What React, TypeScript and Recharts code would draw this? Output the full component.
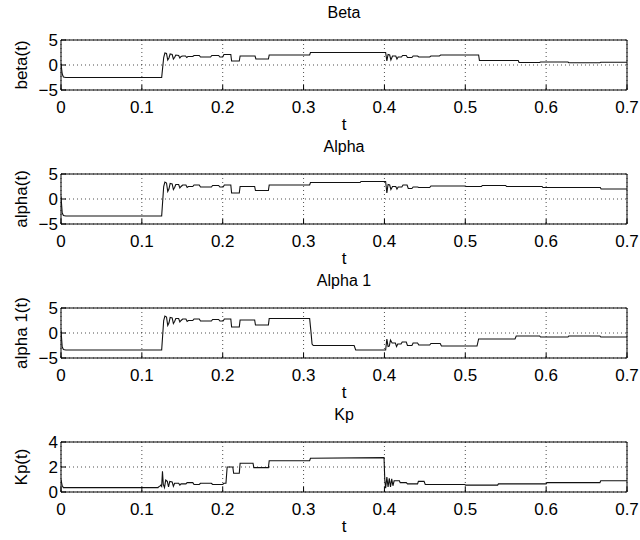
import { CartesianGrid, Line, LineChart, ReferenceArea, XAxis, YAxis } from "recharts";

const FONT = "'Liberation Sans', Arial, Helvetica, sans-serif";

const tTicks = [0, 0.1, 0.2, 0.3, 0.4, 0.5, 0.6, 0.7];
const symTicks = [-5, 0, 5];
const kpTicks = [0, 2, 4];

// [t, value] pairs
const betaPoints: [number, number][] = [
  [0, 0.3], [0.0015, -1.8], [0.003, -2.4], [0.006, -2.5], [0.1245, -2.5],
  [0.127, 1.5], [0.1285, 2.4], [0.1305, 2.3], [0.132, 1.0], [0.1335, 1.4],
  [0.135, 2.2], [0.1375, 2.1], [0.139, 1.2], [0.1405, 1.5], [0.142, 2.0],
  [0.1455, 1.9], [0.147, 1.4], [0.1485, 1.7], [0.1505, 1.8], [0.154, 1.8],
  [0.1555, 1.5], [0.157, 1.7], [0.163, 1.7], [0.1645, 1.9], [0.171, 1.9],
  [0.1725, 1.6], [0.185, 1.6], [0.1865, 1.9], [0.195, 1.9], [0.1965, 1.6],
  [0.2, 1.6], [0.2015, 2.1], [0.21, 2.1], [0.211, 0.8], [0.2205, 0.8],
  [0.2215, 1.8], [0.24, 1.8], [0.241, 1.2], [0.2565, 1.2], [0.2575, 2.0],
  [0.3075, 2.0], [0.3085, 2.5], [0.4015, 2.5], [0.403, 0.8], [0.4045, 2.1],
  [0.4065, 2.0], [0.408, 1.0], [0.41, 1.8], [0.414, 1.8], [0.4155, 1.2],
  [0.417, 1.6], [0.421, 1.6], [0.4225, 1.9], [0.427, 1.9], [0.4285, 1.5],
  [0.434, 1.5], [0.4355, 1.8], [0.441, 1.8], [0.4425, 1.6], [0.456, 1.6],
  [0.4575, 1.8], [0.468, 1.8], [0.4695, 2.0], [0.5165, 2.0], [0.5175, 0.9],
  [0.5655, 0.9], [0.5665, 0.5], [0.592, 0.5], [0.593, 0.6], [0.627, 0.6],
  [0.628, 0.45], [0.6665, 0.45], [0.6675, 0.55], [0.7, 0.55],
];

const alphaPoints: [number, number][] = [
  [0, 0.5], [0.0015, -2.8], [0.003, -3.3], [0.006, -3.4], [0.1245, -3.4],
  [0.127, 2.5], [0.1285, 3.4], [0.1305, 3.2], [0.132, 1.5], [0.1335, 2.0],
  [0.135, 3.1], [0.1375, 3.0], [0.139, 1.9], [0.1405, 2.3], [0.142, 2.9],
  [0.1455, 2.9], [0.147, 2.2], [0.1485, 2.5], [0.1505, 2.8], [0.1545, 2.8],
  [0.156, 2.3], [0.1575, 2.5], [0.163, 2.5], [0.1645, 2.8], [0.171, 2.8],
  [0.1725, 2.4], [0.186, 2.4], [0.1875, 2.7], [0.195, 2.7], [0.1965, 2.4],
  [0.2005, 2.4], [0.202, 2.8], [0.21, 2.8], [0.211, 1.2], [0.2205, 1.2],
  [0.2215, 2.5], [0.2395, 2.5], [0.2405, 1.7], [0.2565, 1.7], [0.2575, 2.8],
  [0.3075, 2.8], [0.3085, 3.3], [0.37, 3.3], [0.371, 3.5], [0.4015, 3.5],
  [0.403, 1.2], [0.4045, 2.9], [0.4065, 2.8], [0.408, 1.9], [0.41, 2.5],
  [0.414, 2.5], [0.4155, 2.0], [0.417, 2.4], [0.4215, 2.4], [0.423, 2.8],
  [0.428, 2.8], [0.4295, 2.1], [0.434, 2.1], [0.4355, 2.4], [0.441, 2.4],
  [0.4425, 2.3], [0.456, 2.3], [0.4575, 2.6], [0.5, 2.6], [0.501, 2.5],
  [0.52, 2.5], [0.521, 2.7], [0.55, 2.7], [0.551, 2.5], [0.595, 2.5],
  [0.596, 2.3], [0.667, 2.3], [0.668, 2.0], [0.7, 2.0],
];

const alpha1Points: [number, number][] = [
  [0, 0.5], [0.0015, -2.8], [0.003, -3.3], [0.006, -3.4], [0.1245, -3.4],
  [0.127, 2.5], [0.1285, 3.4], [0.1305, 3.2], [0.132, 1.5], [0.1335, 2.0],
  [0.135, 3.1], [0.1375, 3.0], [0.139, 1.9], [0.1405, 2.3], [0.142, 2.9],
  [0.1455, 2.9], [0.147, 2.2], [0.1485, 2.5], [0.1505, 2.8], [0.1545, 2.8],
  [0.156, 2.3], [0.1575, 2.5], [0.163, 2.5], [0.1645, 2.8], [0.171, 2.8],
  [0.1725, 2.4], [0.186, 2.4], [0.1875, 2.7], [0.195, 2.7], [0.1965, 2.4],
  [0.2005, 2.4], [0.202, 2.8], [0.21, 2.8], [0.211, 1.2], [0.2205, 1.2],
  [0.2215, 2.6], [0.2395, 2.6], [0.2405, 1.6], [0.2565, 1.6], [0.2575, 2.9],
  [0.3075, 2.9], [0.309, 0.5], [0.3105, -2.2], [0.312, -2.5], [0.3625, -2.5],
  [0.3645, -3.4], [0.4015, -3.4], [0.403, -1.2], [0.4045, -2.7], [0.406, -2.6],
  [0.4075, -1.4], [0.4095, -2.0], [0.4135, -2.0], [0.415, -2.7], [0.4165, -2.2],
  [0.4205, -2.2], [0.422, -1.8], [0.427, -1.8], [0.4285, -2.5], [0.434, -2.5],
  [0.4355, -2.0], [0.441, -2.0], [0.4425, -2.4], [0.456, -2.4], [0.4575, -2.1],
  [0.469, -2.1], [0.4705, -2.6], [0.5145, -2.6], [0.5165, -1.2], [0.5615, -1.2],
  [0.563, -0.6], [0.592, -0.6], [0.593, -0.8], [0.627, -0.8], [0.628, -0.6],
  [0.6665, -0.6], [0.6675, -0.8], [0.7, -0.8],
];

const kpPoints: [number, number][] = [
  [0, 1.0], [0.0015, 0.5], [0.003, 0.35], [0.12, 0.35], [0.1205, 0.4],
  [0.122, 0.45], [0.1235, 0.55], [0.1245, 0.45], [0.1255, 1.65], [0.1265, 0.6],
  [0.128, 0.35], [0.1295, 0.95], [0.1315, 0.85], [0.133, 0.4], [0.1345, 0.85],
  [0.1375, 0.8], [0.139, 0.45], [0.1405, 0.7], [0.1455, 0.7], [0.147, 0.55],
  [0.1485, 0.65], [0.1545, 0.65], [0.156, 0.75], [0.163, 0.75], [0.1645, 0.6],
  [0.171, 0.6], [0.1725, 0.7], [0.186, 0.7], [0.1875, 0.6], [0.2, 0.6],
  [0.2015, 0.7], [0.204, 0.7], [0.2055, 2.0], [0.2125, 2.0], [0.2135, 1.5],
  [0.2205, 1.5], [0.2215, 2.3], [0.2375, 2.3], [0.2385, 1.95], [0.2565, 1.95],
  [0.2575, 2.5], [0.3075, 2.5], [0.3085, 2.7], [0.3995, 2.75], [0.4005, 0.9],
  [0.4015, 0.3], [0.403, 1.2], [0.4045, 0.4], [0.406, 1.1], [0.4075, 0.4],
  [0.409, 1.05], [0.4105, 0.5], [0.412, 0.9], [0.4185, 0.9], [0.4195, 0.75],
  [0.427, 0.75], [0.4285, 0.65], [0.441, 0.65], [0.442, 0.85], [0.449, 0.85],
  [0.4505, 0.6], [0.4995, 0.6], [0.5005, 0.55], [0.54, 0.55], [0.541, 0.65],
  [0.6, 0.65], [0.601, 0.75], [0.6665, 0.75], [0.6675, 0.9], [0.7, 0.9],
];

const panels = [
  { title: "Beta", yLabel: "beta(t)", points: betaPoints, yTicks: symTicks },
  { title: "Alpha", yLabel: "alpha(t)", points: alphaPoints, yTicks: symTicks },
  { title: "Alpha 1", yLabel: "alpha 1(t)", points: alpha1Points, yTicks: symTicks },
  { title: "Kp", yLabel: "Kp(t)", points: kpPoints, yTicks: kpTicks },
];

const fmtY = (v: number) => (v < 0 ? `\u2212${Math.abs(v)}` : `${v}`);

function Panel({ title, yLabel, points, yTicks }: {
  title: string; yLabel: string; points: [number, number][]; yTicks: number[];
}) {
  const data = points.map(([t, v]) => ({ t, v }));
  const lo = yTicks[0];
  const hi = yTicks[yTicks.length - 1];
  const tickStyle = { fill: "#000", fontSize: 17, fontFamily: FONT };
  return (
    <LineChart width={640} height={134} data={data} margin={{ top: 40, right: 13, bottom: 0, left: 0 }}>
      <CartesianGrid stroke="#000" strokeDasharray="1 3" strokeWidth={0.7} />
      <XAxis dataKey="t" type="number" domain={[0, 0.7]} ticks={tTicks} interval={0} allowDataOverflow
        height={44} tickSize={-5} tickMargin={16} axisLine={false} stroke="#000" tick={tickStyle} />
      <XAxis xAxisId="top" orientation="top" type="number" domain={[0, 0.7]} ticks={tTicks} interval={0}
        allowDataOverflow height={0} tickSize={-5} axisLine={false} stroke="#000" tick={false} />
      <YAxis type="number" domain={[lo, hi]} ticks={yTicks} interval={0} allowDataOverflow width={61}
        tickSize={-5} tickMargin={8} axisLine={false} stroke="#000" tick={tickStyle} tickFormatter={fmtY} />
      <YAxis yAxisId="right" orientation="right" type="number" domain={[lo, hi]} ticks={yTicks} interval={0}
        allowDataOverflow width={0} tickSize={-5} axisLine={false} stroke="#000" tick={false} />
      <ReferenceArea x1={0} x2={0.7} y1={lo} y2={hi} fill="none" stroke="#000" strokeWidth={1} />
      <Line type="linear" dataKey="v" stroke="#111" strokeWidth={1.1} dot={false} isAnimationActive={false} />
      <text x={344} y={18} textAnchor="middle" fontSize={16} fontFamily={FONT} fill="#000">{title}</text>
      <text x={344} y={130} textAnchor="middle" fontSize={17} fontFamily={FONT} fill="#000">t</text>
      <text x={21} y={65} transform="rotate(-90 21 65)" textAnchor="middle" dominantBaseline="central"
        fontSize={17} fontFamily={FONT} fill="#000">{yLabel}</text>
    </LineChart>
  );
}

export default function App() {
  return (
    <div style={{ position: "absolute", left: 0, top: 0, width: 640, height: 540, background: "#fff", fontFamily: FONT }}>
      {panels.map((p) => (
        <Panel key={p.title} {...p} />
      ))}
    </div>
  );
}
